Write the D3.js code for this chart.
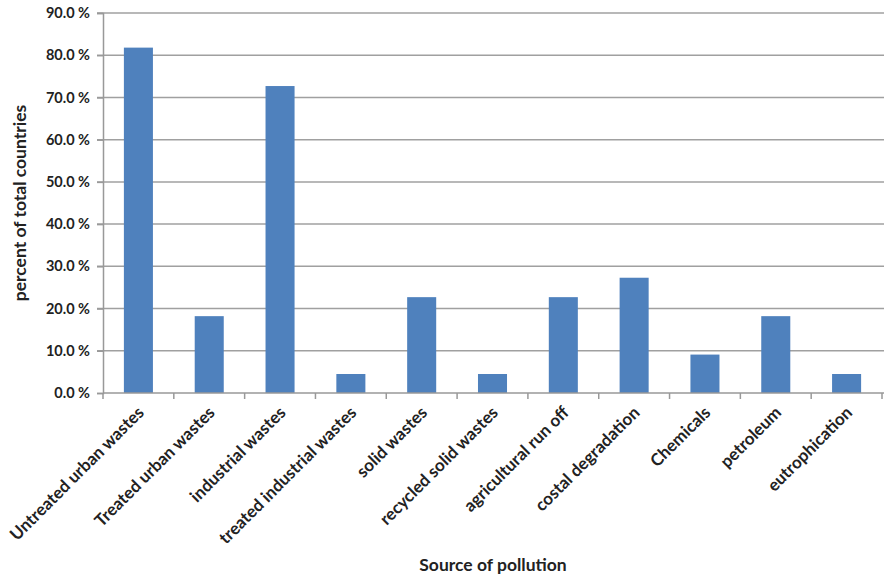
<!DOCTYPE html>
<html><head><meta charset="utf-8">
<script src="https://cdn.jsdelivr.net/npm/d3@7"></script>
<style>body{margin:0;background:#fff}svg text{font-family:Lato,"Open Sans",sans-serif;font-weight:bold;fill:#222}</style>
</head><body><svg id="c" width="884" height="576"></svg>
<script>
const categories = ["Untreated urban wastes","Treated urban wastes","industrial wastes","treated industrial wastes","solid wastes","recycled solid wastes","agricultural run off","costal degradation","Chemicals","petroleum","eutrophication"];
const values = [81.8,18.2,72.7,4.5,22.7,4.5,22.7,27.3,9.1,18.2,4.5];
const yTicks = [0,10,20,30,40,50,60,70,80,90];

const svg = d3.select("#c");
const m = {l:103, r:882, t:13, b:393};
const x = d3.scaleBand().domain(categories).range([m.l,m.r]).paddingInner(0.59).paddingOuter(0.295);
const y = d3.scaleLinear().domain([0,90]).range([m.b,m.t]);

// gridlines
svg.append("g").selectAll("line").data(yTicks.filter(d=>d>0)).join("line")
  .attr("x1",m.l-6).attr("x2",884).attr("y1",d=>y(d)).attr("y2",d=>y(d))
  .attr("stroke","#a0a0a0").attr("stroke-width",1.5);

// bars
svg.append("g").selectAll("rect").data(values).join("rect")
  .attr("x",(d,i)=>x(categories[i])).attr("width",x.bandwidth())
  .attr("y",d=>y(d)).attr("height",d=>y(0)-y(d)).attr("fill","#4f81bd");

// y axis
const ya = svg.append("g").attr("transform",`translate(${m.l},0)`)
  .call(d3.axisLeft(y).tickValues(yTicks).tickFormat(d=>d.toFixed(1)+" %").tickSize(6).tickPadding(7));
ya.select(".domain").attr("stroke","#999").attr("stroke-width",1.5);
ya.selectAll(".tick line").attr("stroke","#999").attr("stroke-width",1.5);
ya.selectAll("text").style("font-size","14.5px").attr("fill","#222");

// x axis
const xa = svg.append("g");
xa.append("line").attr("x1",m.l).attr("x2",884).attr("y1",m.b).attr("y2",m.b).attr("stroke","#999").attr("stroke-width",1.5);
xa.selectAll("line.t").data(d3.range(categories.length+1)).join("line").attr("class","t")
  .attr("x1",i=>m.l+i*(m.r-m.l)/categories.length).attr("x2",i=>m.l+i*(m.r-m.l)/categories.length)
  .attr("y1",m.b).attr("y2",m.b+6).attr("stroke","#999").attr("stroke-width",1.5);
xa.selectAll("text").data(categories).join("text")
  .attr("transform",d=>`translate(${x(d)+x.bandwidth()/2},${m.b+14}) rotate(-45)`)
  .attr("text-anchor","end").attr("dy","0.55em").style("font-size","17px").text(d=>d);

// titles
svg.append("text").attr("transform",`translate(26,${(m.t+m.b)/2}) rotate(-90)`)
  .attr("text-anchor","middle").style("font-size","17.5px").text("percent of total countries");
svg.append("text").attr("x",493).attr("y",571).attr("text-anchor","middle").style("font-size","17.5px").text("Source of pollution");
</script></body></html>
